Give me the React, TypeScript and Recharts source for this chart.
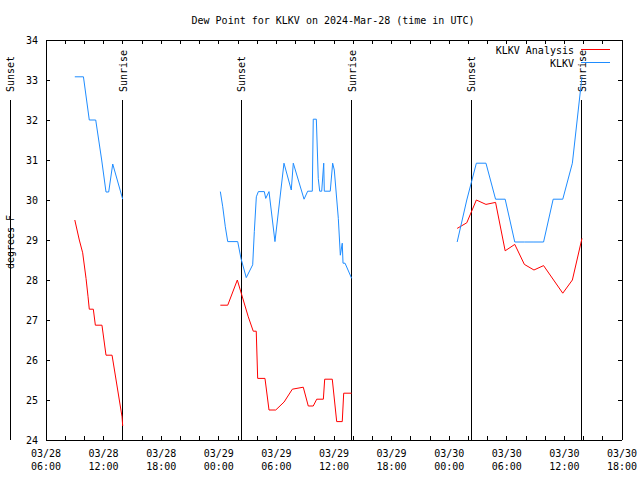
import { LineChart, Line, XAxis, YAxis, ReferenceLine } from 'recharts'

const TITLE = 'Dew Point for KLKV on 2024-Mar-28 (time in UTC)'
const Y_LABEL = 'degrees F'
const SERIES_NAMES = ['KLKV Analysis', 'KLKV']
const SERIES_COLORS = ['#ff0000', '#1e8cff']
const FONT = '"DejaVu Sans Mono", "Liberation Mono", monospace'

// hours after 03/28 00:00 UTC, null breaks the line
const analysisHours = [
  9.0, 9.47, 9.82, 10.17, 10.38, 10.51, 10.93, 11.14, 11.83, 12.25, 12.88, 13.92, 13.99,
  19,
  24.16, 24.93, 25.93, 27.07, 27.59, 27.9, 28.05, 28.81, 29.23, 29.93, 30.8, 31.66, 32.8,
  33.32, 33.84, 34.2, 34.89, 35.03, 35.82, 36.28, 36.86, 37.01, 37.84,
  43,
  48.83, 49.83, 50.83, 51.83, 52.83, 53.83, 54.83, 55.83, 56.83, 57.83, 59.83, 60.83, 61.83,
]
const analysisDewpt = [
  29.5, 29.0, 28.68, 28.04, 27.58, 27.27, 27.27, 26.87, 26.87, 26.12, 26.12, 24.58, 24.35,
  null,
  27.37, 27.37, 28.0, 27.08, 26.72, 26.72, 25.54, 25.54, 24.75, 24.75, 24.95, 25.27, 25.32,
  24.85, 24.85, 25.02, 25.02, 25.52, 25.52, 24.46, 24.46, 25.17, 25.17,
  null,
  29.29, 29.43, 30.0, 29.89, 29.94, 28.73, 28.89, 28.39, 28.25, 28.36, 27.67, 28.0, 29.04,
]

const obsHours = [
  9.0, 9.9, 10.51, 11.18, 11.8, 12.25, 12.53, 12.95, 13.99,
  19,
  24.16, 24.41, 24.68, 24.93, 25.97, 26.31, 26.86, 27.53, 27.7, 27.91, 28.12, 28.74, 28.89,
  29.23, 29.85, 30.79, 31.55, 31.76, 32.88, 33.26, 33.74, 33.84, 34.16, 34.36, 34.51, 34.72,
  34.93, 34.99, 35.61, 35.86, 36.03, 36.45, 36.66, 36.86, 36.94, 37.15, 37.84,
  43,
  48.83, 49.83, 50.83, 51.83, 52.83, 53.83, 54.83, 55.83, 56.83, 57.83, 58.83, 59.83, 60.83, 61.83,
]
const obsDewpt = [
  33.08, 33.08, 32.0, 32.0, 31.0, 30.2, 30.2, 30.9, 30.02,
  null,
  30.21, 29.83, 29.33, 28.96, 28.96, 28.54, 28.06, 28.38, 29.21, 30.08, 30.21, 30.21, 30.04,
  30.21, 28.96, 30.92, 30.25, 30.92, 30.02, 30.22, 30.22, 32.02, 32.02, 30.54, 30.22, 30.22,
  30.92, 30.22, 30.22, 30.92, 30.75, 29.54, 28.62, 28.92, 28.42, 28.42, 28.04,
  null,
  28.95, 30.0, 30.92, 30.92, 30.02, 30.02, 28.95, 28.95, 28.95, 28.95, 30.02, 30.02, 30.92, 33.08,
]

const sunHours = [2.25, 14.0, 26.34, 37.84, 50.3, 61.8]
const sunLabels = ['Sunset', 'Sunrise', 'Sunset', 'Sunrise', 'Sunset', 'Sunrise']

const xTicks = [6, 8, 10, 12, 14, 16, 18, 20, 22, 24, 26, 28, 30, 32, 34, 36, 38, 40, 42, 44, 46, 48, 50, 52, 54, 56, 58, 60, 62, 64, 66]
const yTicks = [24, 25, 26, 27, 28, 29, 30, 31, 32, 33, 34]

const analysisData = analysisHours.map((t, i) => ({ t, v: analysisDewpt[i] }))
const obsData = obsHours.map((t, i) => ({ t, v: obsDewpt[i] }))

const pad = (n: number) => String(n).padStart(2, '0')

function BottomTick(props: any) {
  const { x, y, payload } = props
  const t = payload.value
  return (
    <g>
      <line x1={x} y1={y} x2={x} y2={y - 4} stroke="#000" shapeRendering="crispEdges" />
      {t % 6 === 0 && (
        <text x={x} y={y} textAnchor="middle" fontFamily={FONT} fontSize={10} fill="#000">
          <tspan x={x} dy={16.5}>{`03/${28 + Math.floor(t / 24)}`}</tspan>
          <tspan x={x} dy={13}>{`${pad(t % 24)}:00`}</tspan>
        </text>
      )}
    </g>
  )
}

function TopTick(props: any) {
  const { x, y } = props
  return <line x1={x} y1={y} x2={x} y2={y + 4} stroke="#000" shapeRendering="crispEdges" />
}

function LeftTick(props: any) {
  const { x, y, payload } = props
  return (
    <g>
      <line x1={x} y1={y} x2={x + 4} y2={y} stroke="#000" shapeRendering="crispEdges" />
      <text x={x - 8} y={y + 3.5} textAnchor="end" fontFamily={FONT} fontSize={10} fill="#000">
        {payload.value}
      </text>
    </g>
  )
}

function RightTick(props: any) {
  const { x, y } = props
  return <line x1={x} y1={y} x2={x - 4} y2={y} stroke="#000" shapeRendering="crispEdges" />
}

function sunLabel(text: string) {
  return (p: any) => {
    const vb = p.viewBox || {}
    const lx = vb.x + 4
    const ly = vb.y - 8
    return (
      <text x={lx} y={ly} transform={`rotate(-90, ${lx}, ${ly})`} fontFamily={FONT} fontSize={10} fill="#000">
        {text}
      </text>
    )
  }
}

export default function App() {
  return (
    <div style={{ position: 'absolute', left: 0, top: 0, width: 640, height: 480, background: '#fff' }}>
      <LineChart width={640} height={480} margin={{ top: 0, right: 0, bottom: 0, left: 0 }}>
        <XAxis
          xAxisId="b"
          type="number"
          dataKey="t"
          domain={[6, 66]}
          ticks={xTicks}
          interval={0}
          allowDataOverflow
          height={40}
          tickSize={0}
          tickMargin={0}
          tickLine={false}
          axisLine={{ stroke: '#000', shapeRendering: 'crispEdges' }}
          tick={BottomTick}
        />
        <XAxis
          xAxisId="top"
          orientation="top"
          type="number"
          dataKey="t"
          domain={[6, 66]}
          ticks={xTicks}
          interval={0}
          allowDataOverflow
          height={40}
          tickSize={0}
          tickMargin={0}
          tickLine={false}
          axisLine={{ stroke: '#000', shapeRendering: 'crispEdges' }}
          tick={TopTick}
        />
        <YAxis
          yAxisId="l"
          type="number"
          domain={[24, 34]}
          ticks={yTicks}
          interval={0}
          allowDataOverflow
          width={46}
          tickSize={0}
          tickMargin={0}
          tickLine={false}
          axisLine={{ stroke: '#000', shapeRendering: 'crispEdges' }}
          tick={LeftTick}
        />
        <YAxis
          yAxisId="r"
          orientation="right"
          type="number"
          domain={[24, 34]}
          ticks={yTicks}
          interval={0}
          allowDataOverflow
          width={18}
          tickSize={0}
          tickMargin={0}
          tickLine={false}
          axisLine={{ stroke: '#000', shapeRendering: 'crispEdges' }}
          tick={RightTick}
        />
        {sunHours.map((t, i) => (
          <ReferenceLine
            key={i}
            xAxisId="b"
            yAxisId="l"
            segment={[{ x: t, y: 32.5 }, { x: t, y: 24 }]}
            ifOverflow="visible"
            stroke="#000"
            strokeWidth={1}
            shapeRendering="crispEdges"
            label={sunLabel(sunLabels[i])}
          />
        ))}
        <Line
          xAxisId="b"
          yAxisId="l"
          data={analysisData}
          dataKey="v"
          name={SERIES_NAMES[0]}
          type="linear"
          stroke={SERIES_COLORS[0]}
          strokeWidth={1}
          dot={false}
          activeDot={false}
          connectNulls={false}
          isAnimationActive={false}
        />
        <Line
          xAxisId="b"
          yAxisId="l"
          data={obsData}
          dataKey="v"
          name={SERIES_NAMES[1]}
          type="linear"
          stroke={SERIES_COLORS[1]}
          strokeWidth={1}
          dot={false}
          activeDot={false}
          connectNulls={false}
          isAnimationActive={false}
        />
      </LineChart>
      <svg width={640} height={480} style={{ position: 'absolute', left: 0, top: 0, pointerEvents: 'none' }}>
        <text x={333} y={23.5} textAnchor="middle" fontFamily={FONT} fontSize={10} fill="#000">
          {TITLE}
        </text>
        <text x={14} y={242} textAnchor="middle" transform="rotate(-90, 14, 242)" fontFamily={FONT} fontSize={10} fill="#000">
          {Y_LABEL}
        </text>
        {SERIES_NAMES.map((name, i) => (
          <g key={name}>
            <text x={574} y={54 + i * 13} textAnchor="end" fontFamily={FONT} fontSize={10} fill="#000">
              {name}
            </text>
            <line x1={581} x2={610} y1={49.5 + i * 13} y2={49.5 + i * 13} stroke={SERIES_COLORS[i]} />
          </g>
        ))}
      </svg>
    </div>
  )
}
